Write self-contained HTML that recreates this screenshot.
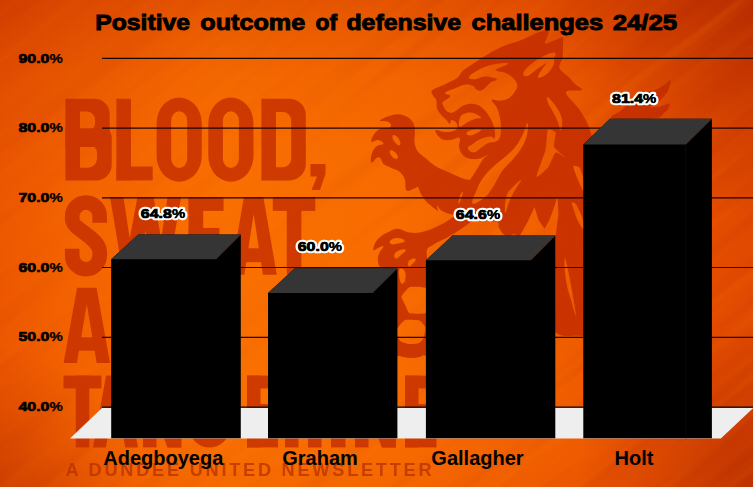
<!DOCTYPE html>
<html><head><meta charset="utf-8"><title>Positive outcome of defensive challenges 24/25</title>
<style>
html,body{margin:0;padding:0;background:#e04a00;}
body{width:753px;height:487px;overflow:hidden;font-family:"Liberation Sans",sans-serif;}
svg{display:block}
text{font-family:"Liberation Sans",sans-serif;font-weight:bold}
.ls{stroke:#c22a00;stroke-linejoin:miter;stroke-linecap:butt}
.logo{fill:#c22a00;opacity:.76}
.lion{fill:#c22a00;opacity:.8}
.grid line{stroke:#160700;stroke-width:1.2}
.axis text{font-size:13.3px;fill:#000;stroke:#000;stroke-width:.7px}
.axis text.pc,.dl2 text.pc{stroke-width:.25px}
.dl text{font-size:13.3px;fill:#000;stroke:#fff;stroke-width:4.6px;paint-order:stroke;stroke-linejoin:round}
.dl2 text{font-size:13.3px;fill:#000;stroke:#000;stroke-width:.7px}
.cats text{font-size:20px;fill:#000}
.title{font-size:21.5px;fill:#000;stroke:#000;stroke-width:.9px}
.sub{font-size:18.2px;fill:#b83000;opacity:.75}
</style></head><body>
<svg width="753" height="487" viewBox="0 0 753 487">
<defs>
<linearGradient id="g1" x1="0" y1="0" x2="1" y2="0">
<stop offset="0" stop-color="#ec5700"/><stop offset="0.1" stop-color="#f46300"/><stop offset="0.3" stop-color="#fa7000"/><stop offset="0.52" stop-color="#f86c00"/><stop offset="0.72" stop-color="#f26000"/><stop offset="0.86" stop-color="#ea5400"/><stop offset="1" stop-color="#e04900"/>
</linearGradient>
<linearGradient id="g3" x1="0" y1="0" x2="0" y2="1">
<stop offset="0" stop-color="#c02800" stop-opacity="0.36"/><stop offset="0.08" stop-color="#c02800" stop-opacity="0.22"/><stop offset="0.16" stop-color="#c02800" stop-opacity="0.1"/><stop offset="0.3" stop-color="#c02800" stop-opacity="0.03"/><stop offset="0.45" stop-color="#c02800" stop-opacity="0"/><stop offset="0.83" stop-color="#c02800" stop-opacity="0"/><stop offset="0.93" stop-color="#c02800" stop-opacity="0.02"/><stop offset="1" stop-color="#c02800" stop-opacity="0.08"/>
</linearGradient>
<radialGradient id="g2" gradientUnits="userSpaceOnUse" cx="770" cy="-20" r="240">
<stop offset="0" stop-color="#a02000" stop-opacity="0.62"/><stop offset="0.5" stop-color="#a42200" stop-opacity="0.3"/><stop offset="1" stop-color="#a82400" stop-opacity="0"/>
</radialGradient>
<radialGradient id="g4" gradientUnits="userSpaceOnUse" cx="765" cy="497" r="190">
<stop offset="0" stop-color="#a02000" stop-opacity="0.6"/><stop offset="0.5" stop-color="#a42200" stop-opacity="0.25"/><stop offset="1" stop-color="#a82400" stop-opacity="0"/>
</radialGradient>
<radialGradient id="g5" gradientUnits="userSpaceOnUse" cx="0" cy="0" r="200">
<stop offset="0" stop-color="#b82c00" stop-opacity="0.25"/><stop offset="1" stop-color="#b82c00" stop-opacity="0"/>
</radialGradient>
<radialGradient id="g6" gradientUnits="userSpaceOnUse" cx="-5" cy="495" r="150">
<stop offset="0" stop-color="#b02800" stop-opacity="0.5"/><stop offset="1" stop-color="#b82c00" stop-opacity="0"/>
</radialGradient>
<filter id="txl" x="0" y="0" width="100%" height="100%" color-interpolation-filters="sRGB"><feTurbulence type="fractalNoise" baseFrequency="0.0035 0.07" numOctaves="2" seed="7"/><feColorMatrix type="matrix" values="0 0 0 0 1  0 0 0 0 0.52  0 0 0 0 0  1.6 0 0 0 -0.8"/></filter>
<filter id="txd" x="0" y="0" width="100%" height="100%" color-interpolation-filters="sRGB"><feTurbulence type="fractalNoise" baseFrequency="0.003 0.06" numOctaves="2" seed="21"/><feColorMatrix type="matrix" values="0 0 0 0 0.66  0 0 0 0 0.12  0 0 0 0 0  0 1.6 0 0 -0.8"/></filter>
<radialGradient id="tmg" gradientUnits="userSpaceOnUse" cx="230" cy="260" r="420"><stop offset="0" stop-color="#2a2a2a"/><stop offset="0.45" stop-color="#555"/><stop offset="1" stop-color="#fff"/></radialGradient>
<mask id="tm" maskUnits="userSpaceOnUse" x="0" y="0" width="753" height="487"><rect width="753" height="487" fill="url(#tmg)"/></mask>
<filter id="soft" x="-10%" y="-30%" width="120%" height="160%"><feGaussianBlur stdDeviation="0.55"/></filter>
<mask id="lm" maskUnits="userSpaceOnUse" x="0" y="0" width="753" height="487"><g fill="#fff"><path d="M432.3,90 C434.4,88.0 440.1,86.6 444.6,84.4 C449.1,82.2 453.5,80.6 457.0,78.0 C460.5,75.4 460.3,72.9 463.7,70.0 C467.1,67.1 471.8,64.6 475.7,62.0 C479.6,59.4 481.6,58.1 485.0,56.0 C488.4,53.9 490.7,52.4 494.4,50.5 C498.1,48.6 500.3,47.3 505.0,45.5 C509.7,43.7 514.6,42.6 520.0,40.5 C525.4,38.4 530.2,35.6 534.4,33.9 C538.6,32.2 540.6,31.6 543.0,31.0 C545.4,30.4 546.5,30.1 547.5,30.5 C548.5,30.9 548.6,31.6 548.5,33.0 C548.4,34.4 547.6,36.1 547.0,38.0 C546.4,39.9 544.0,43.0 545.3,43.5 C546.6,44.0 550.8,41.6 554.0,40.5 C557.2,39.4 560.9,36.8 562.5,37.6 C564.1,38.4 563.0,41.4 563.0,45.0 C563.0,48.6 563.1,53.3 562.5,57.5 C561.9,61.7 558.4,64.5 559.5,68.0 C560.6,71.5 565.6,73.9 568.4,76.8 C571.2,79.7 572.6,81.6 575.0,84.0 C577.4,86.4 583.4,88.5 581.7,90.0 C580.1,91.5 566.5,88.8 566.0,92.3 C565.5,95.8 575.0,103.2 579.0,109.0 C583.0,114.8 585.2,118.7 587.6,123.7 C590.0,128.7 590.5,132.6 592.0,136.5 C593.5,140.4 587.2,142.5 596.0,145.0 C604.8,147.5 631.9,114.2 640.0,150.0 C648.1,185.8 650.5,305.9 640.0,340.0 C629.5,374.1 598.6,337.5 583.0,336.0 C567.4,334.5 562.9,338.6 555.0,332.0 C547.1,325.4 546.4,316.9 540.0,300.0 C533.6,283.1 526.2,251.7 520.0,240.0 C513.8,228.3 509.9,238.2 506.0,236.0 C502.1,233.8 500.6,230.6 499.0,228.0 C497.4,225.4 500.5,223.4 497.0,222.0 C493.5,220.6 485.9,221.2 480.0,220.5 C474.1,219.8 470.0,219.1 465.0,218.0 C460.0,216.9 456.6,215.8 452.9,214.7 C449.2,213.6 447.1,213.3 444.7,212.2 C442.3,211.1 441.0,210.2 439.7,208.9 C438.4,207.6 437.8,205.2 437.4,205.2 C437.0,205.2 437.5,207.8 437.6,209.0 C437.7,210.2 437.9,211.6 437.7,211.8 C437.5,212.0 437.8,211.4 436.4,210.1 C435.0,208.8 432.0,206.7 429.9,204.8 C427.8,202.9 426.6,202.1 424.9,199.9 C423.2,197.7 421.8,195.4 420.5,193.0 C419.2,190.6 419.0,187.9 418.0,187.0 C417.0,186.1 417.0,187.6 414.9,188.2 C412.8,188.8 408.5,192.1 406.6,190.4 C404.7,188.7 406.1,182.4 404.7,178.9 C403.3,175.4 401.7,173.5 399.2,171.5 C396.7,169.5 393.8,169.2 390.9,167.8 C388.0,166.4 385.4,165.8 383.5,164.1 C381.6,162.4 381.9,159.8 380.7,158.6 C379.5,157.4 378.7,156.9 377.0,157.7 C375.3,158.5 372.5,163.2 371.5,162.7 C370.5,162.2 370.7,157.9 371.5,154.9 C372.3,151.9 373.9,148.6 376.1,146.6 C378.3,144.6 383.2,145.0 383.5,143.8 C383.8,142.6 380.1,140.4 377.9,140.1 C375.7,139.8 372.3,142.8 371.5,142.0 C370.7,141.2 371.8,137.9 373.3,135.5 C374.8,133.1 376.9,130.4 379.8,129.0 C382.7,127.6 387.0,128.9 389.0,128.1 C391.0,127.3 391.2,125.6 390.9,124.4 C390.6,123.2 389.2,122.3 387.2,121.6 C385.2,120.9 379.5,121.7 379.8,120.7 C380.1,119.7 385.6,117.3 389.0,116.1 C392.4,114.9 394.9,114.0 398.3,114.2 C401.7,114.4 404.8,115.5 407.5,117.0 C410.2,118.5 411.7,120.1 413.1,122.6 C414.5,125.1 414.6,127.3 414.9,130.9 C415.2,134.5 414.0,138.3 414.5,142.0 C415.0,145.7 415.6,148.2 417.7,151.2 C419.8,154.2 422.8,155.9 426.0,158.6 C429.2,161.3 431.1,163.5 435.2,166.0 C439.3,168.5 442.8,169.7 448.6,172.2 C454.4,174.7 462.6,178.9 467.0,179.6 C471.4,180.3 469.9,179.4 472.6,176.0 C475.3,172.6 479.3,164.8 481.9,161.0 C484.5,157.2 485.3,157.0 487.0,155.5 C488.7,154.0 491.1,152.8 491.0,152.8 C490.9,152.8 488.5,154.4 486.4,155.4 C484.3,156.4 482.4,157.8 479.7,158.5 C477.0,159.2 474.4,159.3 471.7,159.0 C469.0,158.7 467.1,158.1 465.0,156.7 C462.9,155.3 461.5,153.5 460.4,151.4 C459.3,149.3 459.1,147.5 459.0,145.4 C458.9,143.3 460.1,141.5 460.0,140.0 C459.9,138.5 459.9,137.4 458.4,137.4 C456.9,137.4 454.4,139.4 451.7,139.8 C449.0,140.2 446.3,140.6 443.7,139.8 C441.1,139.0 439.2,137.2 437.7,135.4 C436.2,133.6 434.4,130.6 435.7,130.0 C437.0,129.4 442.0,131.7 444.9,132.0 C447.8,132.3 449.5,132.0 451.7,131.4 C453.9,130.8 456.1,130.2 457.0,128.7 C457.9,127.2 457.4,124.6 456.4,123.0 C455.4,121.4 452.9,119.9 451.7,120.0 C450.5,120.1 450.7,123.8 449.7,123.8 C448.7,123.8 448.0,121.7 446.4,120.0 C444.8,118.3 442.7,116.9 441.0,114.7 C439.3,112.5 437.9,110.7 437.0,108.0 C436.1,105.3 437.0,102.3 436.3,100.0 C435.6,97.7 433.7,97.2 433.0,95.4 C432.3,93.6 430.2,92.0 432.3,90.0Z"/><path d="M480,210 C475.5,209.8 465.2,212.2 457.7,215.0 C450.2,217.8 449.2,220.5 442.7,223.8 C436.2,227.1 431.5,229.5 425.0,231.3 C418.5,233.1 415.5,233.1 410.0,232.6 C404.5,232.1 402.1,228.8 397.6,228.8 C393.1,228.8 390.8,231.2 387.6,232.6 C384.4,234.0 383.9,234.2 381.6,236.0 C379.3,237.8 377.7,238.8 376.0,241.6 C374.3,244.4 372.9,248.7 373.3,250.0 C373.7,251.3 376.0,248.8 378.0,248.0 C380.0,247.2 383.3,245.1 383.5,246.2 C383.7,247.3 380.1,250.6 379.0,253.6 C377.9,256.6 377.7,258.2 378.0,261.0 C378.3,263.8 378.3,265.3 380.7,267.5 C383.1,269.7 386.9,269.5 390.0,272.0 C393.1,274.5 394.8,270.4 396.0,280.0 C397.2,289.6 396.0,305.6 396.0,320.0 C396.0,334.4 395.2,344.8 396.0,352.0 C396.8,359.2 398.0,354.9 400.0,356.0 C402.0,357.1 403.7,357.1 406.0,357.5 C408.3,357.9 409.3,358.0 411.5,358.0 C413.7,358.0 414.7,358.0 417.0,357.5 C419.3,357.0 421.0,356.6 423.0,355.5 C425.0,354.4 426.2,359.1 427.0,352.0 C427.8,344.9 427.0,338.0 427.0,320.0 C427.0,302.0 427.0,276.0 427.0,262.0 C427.0,248.0 426.0,253.3 427.0,250.0 C428.0,246.7 429.6,247.2 432.0,245.5 C434.4,243.8 435.8,243.2 439.0,241.5 C442.2,239.8 443.9,239.3 448.0,237.0 C452.1,234.7 455.1,232.8 459.4,230.0 C463.7,227.2 465.2,225.7 469.3,222.9 C473.4,220.1 477.9,218.6 480.0,216.0 C482.1,213.4 484.5,210.2 480.0,210.0Z"/><path d="M613,118.6 C606.6,116.9 617.4,114.1 621.6,110.0 C625.8,105.9 629.1,101.6 634.0,98.0 C638.9,94.4 641.7,93.7 646.0,92.0 C650.3,90.3 652.0,91.1 655.6,89.7 C659.2,88.3 661.0,86.9 664.0,85.0 C667.0,83.1 669.5,79.6 670.5,80.2 C671.5,80.8 669.9,85.2 669.0,88.0 C668.1,90.8 668.3,91.1 666.0,94.0 C663.7,96.9 660.9,99.9 657.7,102.5 C654.5,105.1 649.5,106.2 650.0,107.0 C650.5,107.8 656.1,107.2 660.0,106.5 C663.9,105.8 667.8,103.1 669.4,103.6 C671.0,104.1 669.1,107.1 668.0,109.0 C666.9,110.9 666.9,111.1 664.0,113.0 C661.1,114.9 663.7,117.5 653.5,118.6 C643.3,119.7 619.4,120.3 613.0,118.6Z"/></g><g fill="#000"><path d="M445,93 C446.1,91.4 451.7,89.8 455.7,88.1 C459.7,86.4 461.6,85.1 465.1,84.7 C468.6,84.3 470.8,85.1 473.1,86.0 C475.4,86.9 474.5,88.6 476.4,89.4 C478.3,90.2 479.6,91.4 482.4,90.1 C485.2,88.8 487.5,84.8 490.4,82.7 C493.3,80.6 496.8,80.5 497.1,79.4 C497.4,78.3 494.5,77.9 491.8,77.4 C489.1,76.9 487.2,76.3 483.7,76.7 C480.2,77.1 477.3,79.4 474.4,79.4 C471.5,79.4 468.3,78.6 469.1,76.7 C469.9,74.8 474.4,72.3 478.4,70.0 C482.4,67.7 484.8,66.7 489.1,65.4 C493.4,64.1 496.1,63.7 499.8,63.4 C503.5,63.1 508.6,62.7 507.8,64.0 C507.0,65.3 496.3,68.3 495.8,70.0 C495.3,71.7 501.6,71.1 505.1,72.7 C508.6,74.3 510.7,75.6 513.1,78.0 C515.5,80.4 516.6,82.3 517.1,84.7 C517.6,87.1 517.4,87.4 515.8,90.1 C514.2,92.8 512.3,96.0 509.1,98.1 C505.9,100.2 503.3,100.3 499.8,100.7 C496.3,101.1 492.4,98.5 491.8,100.0 C491.2,101.5 495.4,104.5 497.0,108.0 C498.6,111.5 499.0,113.4 499.8,117.4 C500.6,121.4 501.0,124.0 501.0,128.0 C501.0,132.0 500.8,134.7 499.8,137.4 C498.8,140.1 498.0,140.3 495.8,141.4 C493.6,142.5 491.7,141.6 489.0,142.7 C486.3,143.8 484.9,145.0 482.4,146.7 C479.9,148.4 478.5,150.3 476.4,151.4 C474.3,152.5 473.3,152.4 471.7,152.0 C470.1,151.6 469.1,150.5 468.4,149.4 C467.7,148.3 467.7,147.6 468.4,146.7 C469.1,145.8 469.7,146.0 471.7,144.7 C473.7,143.4 475.7,141.5 478.4,140.0 C481.1,138.5 482.3,138.1 485.0,137.4 C487.7,136.7 489.9,136.4 491.8,136.7 C493.7,137.0 493.8,139.6 494.4,138.7 C495.0,137.8 495.3,134.9 495.0,132.0 C494.7,129.1 494.2,127.2 493.0,124.0 C491.8,120.8 490.9,118.9 489.0,116.0 C487.1,113.1 486.1,111.6 483.7,109.3 C481.3,107.0 479.9,105.8 477.0,104.7 C474.1,103.6 471.9,103.7 469.0,104.0 C466.1,104.3 464.8,104.8 462.4,106.0 C460.0,107.2 459.1,108.7 457.0,110.0 C454.9,111.3 453.8,112.6 451.7,112.7 C449.6,112.8 448.1,112.2 446.4,110.7 C444.7,109.2 443.7,107.0 443.0,105.3 C442.3,103.6 441.5,103.9 443.0,102.1 C444.5,100.3 450.0,97.9 450.4,96.1 C450.8,94.3 443.9,94.6 445.0,93.0Z"/><path d="M466.4,133.5 C466.4,132.5 467.7,131.3 470.0,130.5 C472.3,129.7 475.8,129.6 478.0,129.5 C480.2,129.4 481.4,129.2 481.0,130.0 C480.6,130.8 478.2,132.4 476.0,133.5 C473.8,134.6 471.9,135.5 470.0,135.5 C468.1,135.5 466.4,134.5 466.4,133.5Z"/><path d="M459,121.4 C459.3,119.3 459.8,117.6 461.0,116.0 C462.2,114.4 462.9,114.1 465.0,113.4 C467.1,112.7 469.0,112.3 471.7,112.7 C474.4,113.1 476.5,114.3 478.4,115.4 C480.3,116.5 481.5,117.3 481.0,118.0 C480.5,118.7 478.1,118.0 475.7,118.7 C473.3,119.4 471.4,120.2 469.0,121.4 C466.6,122.6 465.6,123.6 463.7,124.7 C461.8,125.8 460.6,127.4 459.7,126.7 C458.8,126.0 458.7,123.5 459.0,121.4Z"/><path d="M538,76 C538.7,73.9 541.4,70.3 543.7,67.0 C546.0,63.7 547.7,61.3 549.7,59.5 C551.7,57.7 553.1,56.8 553.8,58.0 C554.5,59.2 554.5,62.4 553.2,65.5 C551.9,68.6 550.1,71.1 547.5,73.5 C544.9,75.9 542.2,77.1 540.3,77.6 C538.4,78.1 537.3,78.1 538.0,76.0Z"/><path d="M523.6,72.3 C524.6,69.7 528.0,66.5 532.5,63.0 C537.0,59.5 541.7,56.8 546.2,54.8 C550.7,52.8 553.3,52.2 554.8,52.8 C556.3,53.4 556.5,55.2 553.5,58.0 C550.5,60.8 545.2,63.4 540.0,67.0 C534.8,70.6 530.6,74.9 527.3,76.0 C524.0,77.1 522.6,74.9 523.6,72.3Z"/><path d="M547.5,97 C549.2,97.8 554.1,103.4 557.0,108.0 C559.9,112.6 561.3,115.5 562.0,120.0 C562.7,124.5 561.4,130.3 560.5,130.5 C559.6,130.7 559.1,124.9 557.5,121.0 C555.9,117.1 554.3,114.4 552.5,111.0 C550.7,107.6 549.6,106.8 548.6,104.0 C547.6,101.2 545.8,96.2 547.5,97.0Z"/><path d="M527.4,123 C528.2,123.2 528.1,130.2 527.0,135.0 C525.9,139.8 524.6,142.4 522.0,147.0 C519.4,151.6 517.8,153.4 514.0,158.0 C510.2,162.6 506.4,165.6 503.0,170.0 C499.6,174.4 499.4,176.0 497.0,180.0 C494.6,184.0 493.6,186.4 491.0,190.0 C488.4,193.6 487.7,195.3 484.0,198.0 C480.3,200.7 474.1,205.1 472.6,203.5 C471.1,201.9 474.6,195.1 476.7,190.0 C478.8,184.9 479.5,182.8 483.0,178.0 C486.5,173.2 489.4,170.4 494.0,166.0 C498.6,161.6 501.6,160.0 506.0,156.0 C510.4,152.0 512.6,150.4 516.0,146.0 C519.4,141.6 520.7,138.6 523.0,134.0 C525.3,129.4 526.6,122.8 527.4,123.0Z"/><path d="M462.7,191.6 C463.2,191.5 462.6,194.5 461.8,197.0 C461.0,199.5 459.1,203.9 458.6,204.0 C458.1,204.1 458.6,200.0 459.4,197.5 C460.2,195.0 462.2,191.7 462.7,191.6Z"/><path d="M521,180 C520.4,179.6 514.9,184.8 512.0,188.0 C509.1,191.2 507.9,191.0 506.5,196.0 C505.1,201.0 504.3,212.2 505.0,213.0 C505.7,213.8 508.0,204.6 510.0,200.0 C512.0,195.4 512.8,194.0 515.0,190.0 C517.2,186.0 521.6,180.4 521.0,180.0Z"/><path d="M564.8,258 C565.6,258.0 567.8,268.6 570.0,280.0 C572.2,291.4 575.8,311.0 576.0,315.0 C576.2,319.0 573.0,307.0 571.0,300.0 C569.0,293.0 567.2,288.4 566.0,280.0 C564.8,271.6 564.0,258.0 564.8,258.0Z"/><path d="M547.8,130 C548.8,128.3 555.1,131.1 555.7,132.8 C556.3,134.5 553.1,144.6 554.1,147.1 C555.1,149.6 565.1,157.0 565.3,157.5 C565.5,158.0 557.5,151.5 555.7,152.5 C554.0,153.5 549.7,165.4 547.8,167.8 C545.9,170.2 536.8,178.3 536.6,176.5 C536.4,174.7 544.4,154.7 545.5,150.0 C546.6,145.3 546.8,131.7 547.8,130.0Z"/><path d="M573.2,166.2 C573.4,164.9 578.6,166.2 579.6,167.5 C580.6,168.8 583.1,176.7 583.5,179.0 C583.9,181.3 584.0,190.9 583.5,191.0 C583.0,191.1 579.0,182.5 578.0,180.0 C577.0,177.5 573.0,167.4 573.2,166.2Z"/><path d="M571.7,202.8 C571.7,201.4 575.3,203.2 576.5,205.0 C577.7,206.8 582.8,218.5 583.5,221.0 C584.2,223.5 584.1,230.2 583.5,230.0 C582.9,229.8 578.2,221.7 577.0,219.0 C575.8,216.3 571.8,204.2 571.7,202.8Z"/><polygon points="519.6,236 527.6,221.9 534.5,206.9 538.5,219.9 544.5,228.8 549.5,219.9 554.5,205.9 557.5,196 558.4,213.9 556.5,229.8 555.5,236"/><path d="M391,240 C392.6,238.6 394.8,237.8 398.0,238.0 C401.2,238.2 404.7,239.7 404.7,241.0 C404.7,242.3 401.2,242.8 398.0,243.5 C394.8,244.2 392.6,244.8 391.0,244.0 C389.4,243.2 389.4,241.4 391.0,240.0Z"/><path d="M394.6,254 C395.5,252.0 397.4,250.9 400.0,250.0 C402.6,249.1 405.5,248.8 405.7,250.0 C405.9,251.2 403.3,253.0 401.0,255.0 C398.7,257.0 397.5,258.7 396.0,258.5 C394.5,258.3 393.7,256.0 394.6,254.0Z"/><path d="M408.4,262 C409.1,260.2 410.3,259.6 412.0,259.0 C413.7,258.4 415.6,258.4 415.8,259.5 C416.0,260.6 414.6,261.9 413.0,263.5 C411.4,265.1 410.1,266.9 409.0,266.5 C407.9,266.1 407.7,263.8 408.4,262.0Z"/><path d="M399.2,270.2 C400.1,267.4 403.3,268.7 404.7,271.0 C406.1,273.3 405.9,277.2 405.0,280.0 C404.1,282.8 402.4,285.3 401.0,283.0 C399.6,280.7 398.3,273.0 399.2,270.2Z"/><path d="M401.5,296.6 C401.9,295.0 407.8,287.8 409.9,287.1 C412.0,286.5 425.6,286.7 427.0,288.8 C428.4,290.9 428.4,310.3 427.0,312.3 C425.6,314.3 411.7,313.8 409.9,313.3 C408.1,312.8 406.4,307.4 405.7,306.0 C405.0,304.6 401.1,298.2 401.5,296.6Z"/><path d="M397,329 C397.6,327.7 402.8,320.9 404.7,320.2 C406.6,319.5 417.6,320.0 419.3,320.6 C421.0,321.2 424.8,325.8 425.2,327.3 C425.6,328.8 424.1,337.1 423.5,338.4 C422.9,339.7 419.5,342.8 418.3,343.3 C417.1,343.8 410.3,344.3 408.8,344.1 C407.3,343.9 401.5,341.9 400.5,341.2 C399.5,340.5 397.3,336.3 397.0,335.3 C396.7,334.3 396.4,330.3 397.0,329.0Z"/><path d="M399.4,270.4 C399.4,270.1 402.0,272.9 402.5,274.0 C403.0,275.1 405.7,282.7 405.7,283.0 C405.7,283.3 402.5,279.1 402.0,278.0 C401.5,276.9 399.4,270.7 399.4,270.4Z"/><ellipse cx="396.4" cy="140.1" rx="2.6" ry="6" transform="rotate(-35 396.4 140.1)"/><ellipse cx="393.7" cy="154.5" rx="2.6" ry="5.5" transform="rotate(-42 393.7 154.5)"/></g></mask></defs>
<rect width="753" height="487" fill="url(#g1)"/>
<rect width="753" height="487" fill="url(#g3)"/>
<rect width="753" height="487" fill="url(#g2)"/>
<rect width="753" height="487" fill="url(#g4)"/>
<rect width="753" height="487" fill="url(#g5)"/>
<rect width="753" height="487" fill="url(#g6)"/>
<g mask="url(#tm)"><g transform="rotate(-38 376 243)" opacity="0.3"><rect x="-150" y="-250" width="1050" height="1000" filter="url(#txl)"/><rect x="-150" y="-250" width="1050" height="1000" filter="url(#txd)"/></g></g>
<g class="logo"><path d="M65.4,98.8 H94.42 A15.28,15.28 0 0 1 109.7,114.08 V138.51 A8.4,8.4 0 0 1 101.3,146.91 H65.4 Z M80,111.5 H86.8 A8.3,8.3 0 0 1 95.1,119.81 V122.9 A8.3,8.3 0 0 1 86.8,131.21 H80 Z" fill-rule="evenodd"/><path d="M65.4,128.21 H103.3 A8.4,8.4 0 0 1 111.7,136.61 V165.12 A15.28,15.28 0 0 1 96.42,180.4 H65.4 Z M80,143.91 H87.7 A9.4,9.4 0 0 1 97.1,153.32 V158.29 A9.4,9.4 0 0 1 87.7,167.7 H80 Z" fill-rule="evenodd"/><rect x="116.4" y="98.8" width="14.6" height="81.6"/><rect x="116.4" y="166.53" width="36.3" height="13.87"/><path d="M179.2,97.4 H179.2 A22.6,25.99 0 0 1 201.8,123.39 V155.81 A22.6,25.99 0 0 1 179.2,181.8 H179.2 A22.6,25.99 0 0 1 156.6,155.81 V123.39 A22.6,25.99 0 0 1 179.2,97.4 Z M179.2,111.27 H179.2 A8,9.2 0 0 1 187.2,120.47 V158.73 A8,9.2 0 0 1 179.2,167.93 H179.2 A8,9.2 0 0 1 171.2,158.73 V120.47 A8,9.2 0 0 1 179.2,111.27 Z" fill-rule="evenodd"/><path d="M230.9,97.4 H230.9 A22.6,25.99 0 0 1 253.5,123.39 V155.81 A22.6,25.99 0 0 1 230.9,181.8 H230.9 A22.6,25.99 0 0 1 208.3,155.81 V123.39 A22.6,25.99 0 0 1 230.9,97.4 Z M230.9,111.27 H230.9 A8,9.2 0 0 1 238.9,120.47 V158.73 A8,9.2 0 0 1 230.9,167.93 H230.9 A8,9.2 0 0 1 222.9,158.73 V120.47 A8,9.2 0 0 1 230.9,111.27 Z" fill-rule="evenodd"/><path d="M261.4,98.8 H289.37 A16.43,16.43 0 0 1 305.8,115.23 V163.97 A16.43,16.43 0 0 1 289.37,180.4 H261.4 Z M276,111.94 H282.84 A8.36,8.36 0 0 1 291.2,120.3 V158.9 A8.36,8.36 0 0 1 282.84,167.26 H276 Z" fill-rule="evenodd"/><polygon points="310.5,164 325.5,164 325.5,174.3 320,189.9 311.6,189.9 317,176.5 310.5,176.5"/><path d="M99.7,222.84 V216.25 A13.75,13.75 0 0 0 85.95,202.5 A13.75,13.75 0 0 0 72.2,216.25 V219.59 C72.2,229.35 99.7,237.48 99.7,252.11 L99.7,255.45 A13.75,13.75 0 0 1 85.95,269.2 A13.75,13.75 0 0 1 72.2,255.45 V248.86" fill="none" stroke-width="14.6" class="ls"/><polygon points="110,197 123.43,197 135.21,274.7 123.13,274.7"/><polygon points="123.13,274.7 135.21,274.7 153.56,197 137.44,197"/><polygon points="137.44,197 153.56,197 167.87,274.7 155.79,274.7"/><polygon points="155.79,274.7 167.87,274.7 181,197 167.57,197"/><rect x="188.6" y="197" width="14.6" height="77.7"/><rect x="188.6" y="197" width="35" height="13.87"/><rect x="188.6" y="260.83" width="35" height="13.87"/><rect x="188.6" y="227.91" width="30.8" height="13.87"/><polygon points="230.5,274.7 244.37,274.7 253.65,214.09 262.93,274.7 276.8,274.7 263.37,197 243.93,197"/><rect x="240.69" y="248.28" width="25.93" height="13.87"/><rect x="272.8" y="197" width="42.5" height="13.87"/><rect x="286.75" y="197" width="14.6" height="77.7"/><polygon points="63.6,362.9 76.9,362.9 86.8,304.24 96.7,362.9 110,362.9 96.54,287.7 77.06,287.7"/><rect x="73.81" y="337.33" width="25.98" height="13.3"/><rect x="115" y="287.7" width="14" height="75.2"/><rect x="143" y="287.7" width="14" height="75.2"/><polygon points="115,287.7 129.7,287.7 157,362.9 142.3,362.9"/><path d="M163,287.7 H188.2 A14.8,14.8 0 0 1 203,302.5 V348.1 A14.8,14.8 0 0 1 188.2,362.9 H163 Z M177,300.3 H182.4 A6.6,6.6 0 0 1 189,306.9 V343.7 A6.6,6.6 0 0 1 182.4,350.3 H177 Z" fill-rule="evenodd"/><rect x="63.5" y="375.6" width="38" height="12.82"/><rect x="75.75" y="375.6" width="13.5" height="71.8"/><polygon points="93,447.4 105.83,447.4 115.5,391.4 125.17,447.4 138,447.4 124.95,375.6 106.05,375.6"/><rect x="102.9" y="422.99" width="25.2" height="12.82"/><rect x="143" y="375.6" width="13.5" height="71.8"/><rect x="168" y="375.6" width="13.5" height="71.8"/><polygon points="143,375.6 157.18,375.6 181.5,447.4 167.32,447.4"/><path d="M223.25,400.01 V396.1 A13.75,13.75 0 0 0 209.5,382.35 A13.75,13.75 0 0 0 195.75,396.1 V426.9 A13.75,13.75 0 0 0 209.5,440.65 A13.75,13.75 0 0 0 223.25,426.9 V418.25 H209.5" fill="none" stroke-width="13.5" class="ls"/><rect x="247" y="375.6" width="13.5" height="71.8"/><rect x="247" y="375.6" width="31" height="12.82"/><rect x="247" y="434.58" width="31" height="12.82"/><rect x="247" y="404.09" width="27.28" height="12.82"/><path d="M291.75,382.35 H302.1 A12.65,12.65 0 0 1 314.75,395 V401.72 A12.65,12.65 0 0 1 302.1,414.37 H291.75 M300.1,414.37 A12.65,12.65 0 0 1 314.75,427.02 V447.4" fill="none" stroke-width="13.5" class="ls"/><rect x="285" y="375.6" width="13.5" height="71.8"/><rect x="331" y="375.6" width="14.5" height="71.8"/><rect x="355" y="375.6" width="13.5" height="71.8"/><rect x="382.5" y="375.6" width="13.5" height="71.8"/><polygon points="355,375.6 369.18,375.6 396,447.4 381.82,447.4"/><rect x="405" y="375.6" width="13.5" height="71.8"/><rect x="405" y="375.6" width="31.5" height="12.82"/><rect x="405" y="434.58" width="31.5" height="12.82"/><rect x="405" y="404.09" width="27.72" height="12.82"/></g>
<text class="sub" x="65.6" y="476" textLength="366" lengthAdjust="spacing">A DUNDEE UNITED NEWSLETTER</text>
<rect class="lion" width="753" height="487" mask="url(#lm)"/>
<g class="grid"><line x1="102" y1="58.45" x2="753" y2="58.45"/><line x1="102" y1="128.2" x2="753" y2="128.2"/><line x1="102" y1="197.9" x2="753" y2="197.9"/><line x1="102" y1="267.5" x2="753" y2="267.5"/><line x1="102" y1="337.45" x2="753" y2="337.45"/><line x1="102" y1="407.2" x2="753" y2="407.2"/></g>
<polygon points="102,407.9 753.5,407.9 720.8,438.6 70,438.6" fill="#eeeeee"/>
<polygon points="111.2,259.2 138.3,234.6 240.8,234.6 240.8,438.3 111.2,438.3" fill="#000"/><polygon points="111.2,259.2 138.3,234.6 240.8,234.6 216,259.2" fill="#353535"/><path d="M216,259.2 L240.8,234.6" stroke="#5a2a10" stroke-width="0.6" fill="none"/><polygon points="268,293 294.9,268.3 397.4,268.3 397.4,438.3 268,438.3" fill="#000"/><polygon points="268,293 294.9,268.3 397.4,268.3 372.4,293" fill="#353535"/><path d="M372.4,293 L397.4,268.3" stroke="#5a2a10" stroke-width="0.6" fill="none"/><polygon points="425.9,260.2 452.5,235.6 555.3,235.6 555.3,438.3 425.9,438.3" fill="#000"/><polygon points="425.9,260.2 452.5,235.6 555.3,235.6 530.8,260.2" fill="#353535"/><path d="M530.8,260.2 L555.3,235.6" stroke="#5a2a10" stroke-width="0.6" fill="none"/><polygon points="583.3,144.5 609.9,118.8 711.9,118.8 711.9,438.3 583.3,438.3" fill="#000"/><polygon points="583.3,144.5 609.9,118.8 711.9,118.8 685.7,144.5" fill="#353535"/><path d="M685.7,144.5 L711.9,118.8" stroke="#5a2a10" stroke-width="0.6" fill="none"/><path d="M685.7,144.5 V438.3" stroke="#120a06" stroke-width="0.8" fill="none"/>
<g class="axis"><text x="18.4" y="62.75" textLength="31.1" lengthAdjust="spacingAndGlyphs">90.0</text><text class="pc" x="49.5" y="62.75" textLength="13.3" lengthAdjust="spacingAndGlyphs">%</text><text x="18.4" y="132.35" textLength="31.1" lengthAdjust="spacingAndGlyphs">80.0</text><text class="pc" x="49.5" y="132.35" textLength="13.3" lengthAdjust="spacingAndGlyphs">%</text><text x="18.4" y="201.95" textLength="31.1" lengthAdjust="spacingAndGlyphs">70.0</text><text class="pc" x="49.5" y="201.95" textLength="13.3" lengthAdjust="spacingAndGlyphs">%</text><text x="18.4" y="271.55" textLength="31.1" lengthAdjust="spacingAndGlyphs">60.0</text><text class="pc" x="49.5" y="271.55" textLength="13.3" lengthAdjust="spacingAndGlyphs">%</text><text x="18.4" y="341.15" textLength="31.1" lengthAdjust="spacingAndGlyphs">50.0</text><text class="pc" x="49.5" y="341.15" textLength="13.3" lengthAdjust="spacingAndGlyphs">%</text><text x="18.4" y="410.75" textLength="31.1" lengthAdjust="spacingAndGlyphs">40.0</text><text class="pc" x="49.5" y="410.75" textLength="13.3" lengthAdjust="spacingAndGlyphs">%</text></g>
<g class="dl" filter="url(#soft)"><text x="140.8" y="218.2" textLength="31.1" lengthAdjust="spacingAndGlyphs">64.8</text><text class="pc" x="171.9" y="218.2" textLength="13.3" lengthAdjust="spacingAndGlyphs">%</text><text x="297.7" y="250.8" textLength="31.1" lengthAdjust="spacingAndGlyphs">60.0</text><text class="pc" x="328.8" y="250.8" textLength="13.3" lengthAdjust="spacingAndGlyphs">%</text><text x="455.8" y="218.9" textLength="31.1" lengthAdjust="spacingAndGlyphs">64.6</text><text class="pc" x="486.9" y="218.9" textLength="13.3" lengthAdjust="spacingAndGlyphs">%</text><text x="612" y="103.2" textLength="31.1" lengthAdjust="spacingAndGlyphs">81.4</text><text class="pc" x="643.1" y="103.2" textLength="13.3" lengthAdjust="spacingAndGlyphs">%</text></g>
<g class="dl2"><text x="140.8" y="218.2" textLength="31.1" lengthAdjust="spacingAndGlyphs">64.8</text><text class="pc" x="171.9" y="218.2" textLength="13.3" lengthAdjust="spacingAndGlyphs">%</text><text x="297.7" y="250.8" textLength="31.1" lengthAdjust="spacingAndGlyphs">60.0</text><text class="pc" x="328.8" y="250.8" textLength="13.3" lengthAdjust="spacingAndGlyphs">%</text><text x="455.8" y="218.9" textLength="31.1" lengthAdjust="spacingAndGlyphs">64.6</text><text class="pc" x="486.9" y="218.9" textLength="13.3" lengthAdjust="spacingAndGlyphs">%</text><text x="612" y="103.2" textLength="31.1" lengthAdjust="spacingAndGlyphs">81.4</text><text class="pc" x="643.1" y="103.2" textLength="13.3" lengthAdjust="spacingAndGlyphs">%</text></g>
<g class="cats"><text x="163.3" y="465.2" text-anchor="middle">Adegboyega</text><text x="320" y="465.2" text-anchor="middle">Graham</text><text x="477.5" y="465.2" text-anchor="middle">Gallagher</text><text x="634" y="465.2" text-anchor="middle">Holt</text></g>
<text class="title" x="95.3" y="29.6" textLength="94.7" lengthAdjust="spacingAndGlyphs">Positive</text><text class="title" x="200.3" y="29.6" textLength="105" lengthAdjust="spacingAndGlyphs">outcome</text><text class="title" x="315.5" y="29.6" textLength="21.5" lengthAdjust="spacingAndGlyphs">of</text><text class="title" x="346.4" y="29.6" textLength="114.8" lengthAdjust="spacingAndGlyphs">defensive</text><text class="title" x="471.5" y="29.6" textLength="131.7" lengthAdjust="spacingAndGlyphs">challenges</text><text class="title" x="612.7" y="29.6" textLength="64.5" lengthAdjust="spacingAndGlyphs">24/25</text>
</svg>
</body></html>
